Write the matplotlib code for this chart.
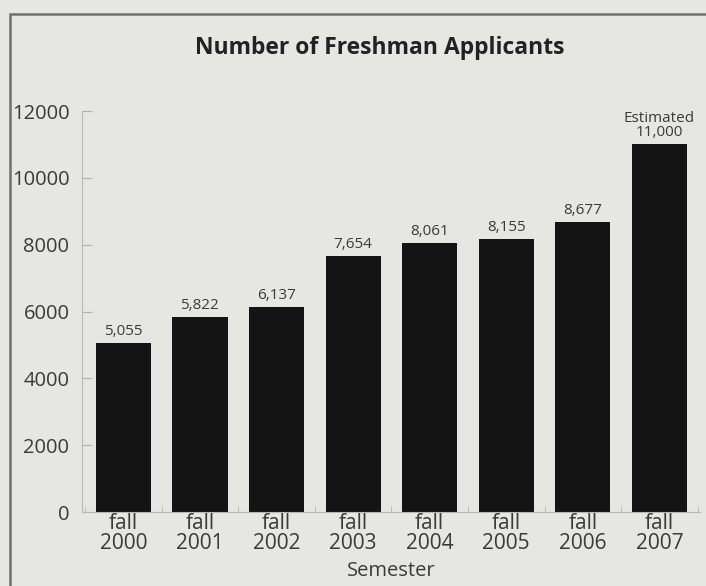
import matplotlib.pyplot as plt
from matplotlib.patches import Rectangle

# data
semesters = ['fall\n2000', 'fall\n2001', 'fall\n2002', 'fall\n2003',
             'fall\n2004', 'fall\n2005', 'fall\n2006', 'fall\n2007']
applicants = [5055, 5822, 6137, 7654, 8061, 8155, 8677, 11000]
bar_labels = ['5,055', '5,822', '6,137', '7,654', '8,061', '8,155', '8,677',
              'Estimated\n11,000']

plt.rcParams['font.family'] = ['Open Sans', 'DejaVu Sans']
bg = '#e6e6e3'
txt = '#3a3a3a'

fig = plt.figure(figsize=(7.06, 5.86), dpi=100, facecolor=bg)
# outer frame of the printed figure
fig.patches.append(Rectangle((10 / 706, -0.1), 1.0, 1 - 14 / 586 + 0.1,
                             transform=fig.transFigure, fill=False,
                             edgecolor='#707070', linewidth=1.8))

ax = fig.add_axes([82 / 706, 1 - 512 / 586, 618 / 706, (512 - 111) / 586])
ax.set_facecolor(bg)

x = range(len(semesters))
ax.bar(x, applicants, width=0.72, color='#141414')

for i, (v, lab) in enumerate(zip(applicants, bar_labels)):
    ax.text(i, v + 120, lab, ha='center', va='bottom', fontsize=11,
            color=txt, linespacing=0.95)

ax.set_xlim(-0.54, 7.53)
ax.set_ylim(0, 12000)
ax.set_yticks(range(0, 12001, 2000))
ax.set_xticks(list(x))
ax.set_xticks([i + 0.5 for i in range(-1, 8)], minor=True)
ax.set_xticklabels(semesters, fontsize=15, color=txt, linespacing=0.9)
ax.tick_params(axis='y', labelsize=14.5, labelcolor=txt, color='#b0b0b0',
               length=7, direction='in', pad=9)
ax.tick_params(axis='x', which='major', length=0, pad=1)
ax.tick_params(axis='x', which='minor', length=4, direction='in', color='#b8b8b8')

for s in ['top', 'right']:
    ax.spines[s].set_visible(False)
ax.spines['left'].set_color('#b8b8b8')
ax.spines['bottom'].set_color('#b8b8b8')
ax.spines['left'].set_linewidth(0.8)
ax.spines['bottom'].set_linewidth(0.8)

ax.set_xlabel('Semester', fontsize=14.5, color=txt, labelpad=5)
fig.text(380 / 706, 1 - 48 / 586, 'Number of Freshman Applicants',
         ha='center', va='center', fontsize=16.5, fontweight='bold', color='#222222')

fig.savefig('out.png', dpi=100, facecolor=bg)
